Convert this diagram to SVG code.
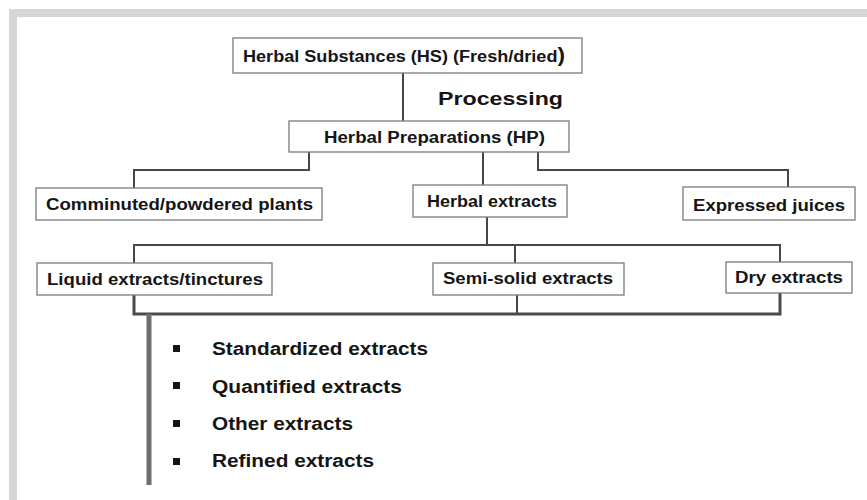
<svg xmlns="http://www.w3.org/2000/svg" width="867" height="500" viewBox="0 0 867 500">
<style>
.box{fill:#fff;stroke:#7a7a7a;stroke-width:1.3}
.t{font-family:"Liberation Sans",Arial,sans-serif;font-weight:bold;font-size:16px;fill:#151515}
.b{font-family:"Liberation Sans",Arial,sans-serif;font-weight:bold;font-size:18px;fill:#151515}
.c{fill:none;stroke:#474747;stroke-width:2}
.c2{fill:none;stroke:#4a4a4a;stroke-width:3}
</style>
<rect x="0" y="0" width="867" height="500" fill="#fff"/>
<rect x="9" y="9" width="858" height="8" fill="#d6d6d6"/>
<rect x="9" y="9" width="8" height="491" fill="#d6d6d6"/>
<g id="connectors">
<path class="c" d="M403 73V121"/>
<path class="c" d="M309 152V170H134V188"/>
<path class="c" d="M483 152V185"/>
<path class="c" d="M538 152V170H788V187"/>
<path class="c" d="M487 217V245"/>
<path class="c" d="M134 263V245H780V262"/>
<path class="c" d="M515 245V263"/>
<path class="c2" d="M134 295V314H780V293"/>
<path class="c" d="M517 295V314"/>
<path d="M149 314V485" stroke="#6e6e6e" stroke-width="5" fill="none"/>
</g>
<g id="hs">
<rect class="box" x="233" y="38" width="349" height="35"/>
<text class="t" x="243" y="62" textLength="322" lengthAdjust="spacingAndGlyphs">Herbal Substances (HS) (Fresh/dried<tspan font-size="20">)</tspan></text>
</g>
<g id="processing">
<text class="b" x="438" y="105" textLength="125" lengthAdjust="spacingAndGlyphs">Processing</text>
</g>
<g id="hp">
<rect class="box" x="289" y="121" width="280" height="31"/>
<text class="t" x="324" y="143" textLength="221" lengthAdjust="spacingAndGlyphs">Herbal Preparations (HP)</text>
</g>
<g id="comminuted">
<rect class="box" x="36" y="188" width="286" height="32"/>
<text class="t" x="46" y="210" textLength="267" lengthAdjust="spacingAndGlyphs">Comminuted/powdered plants</text>
</g>
<g id="herbal-extracts">
<rect class="box" x="413" y="185" width="154" height="32"/>
<text class="t" x="427" y="207" textLength="130" lengthAdjust="spacingAndGlyphs">Herbal extracts</text>
</g>
<g id="expressed">
<rect class="box" x="683" y="187" width="172" height="33"/>
<text class="t" x="693" y="211" textLength="152" lengthAdjust="spacingAndGlyphs">Expressed juices</text>
</g>
<g id="liquid">
<rect class="box" x="37" y="263" width="235" height="32"/>
<text class="t" x="47" y="285" textLength="216" lengthAdjust="spacingAndGlyphs">Liquid extracts/tinctures</text>
</g>
<g id="semi">
<rect class="box" x="433" y="263" width="191" height="32"/>
<text class="t" x="443" y="284" textLength="170" lengthAdjust="spacingAndGlyphs">Semi-solid extracts</text>
</g>
<g id="dry">
<rect class="box" x="726" y="262" width="126" height="31"/>
<text class="t" x="735" y="283" textLength="108" lengthAdjust="spacingAndGlyphs">Dry extracts</text>
</g>
<g id="list">
<rect x="173" y="345" width="7" height="7" fill="#151515"/>
<rect x="173" y="382" width="7" height="7" fill="#151515"/>
<rect x="173" y="420" width="7" height="7" fill="#151515"/>
<rect x="173" y="458" width="7" height="7" fill="#151515"/>
<text class="b" x="212" y="355" textLength="216" lengthAdjust="spacingAndGlyphs">Standardized extracts</text>
<text class="b" x="212" y="393" textLength="190" lengthAdjust="spacingAndGlyphs">Quantified extracts</text>
<text class="b" x="212" y="430" textLength="141" lengthAdjust="spacingAndGlyphs">Other extracts</text>
<text class="b" x="212" y="467" textLength="162" lengthAdjust="spacingAndGlyphs">Refined extracts</text>
</g>
</svg>
